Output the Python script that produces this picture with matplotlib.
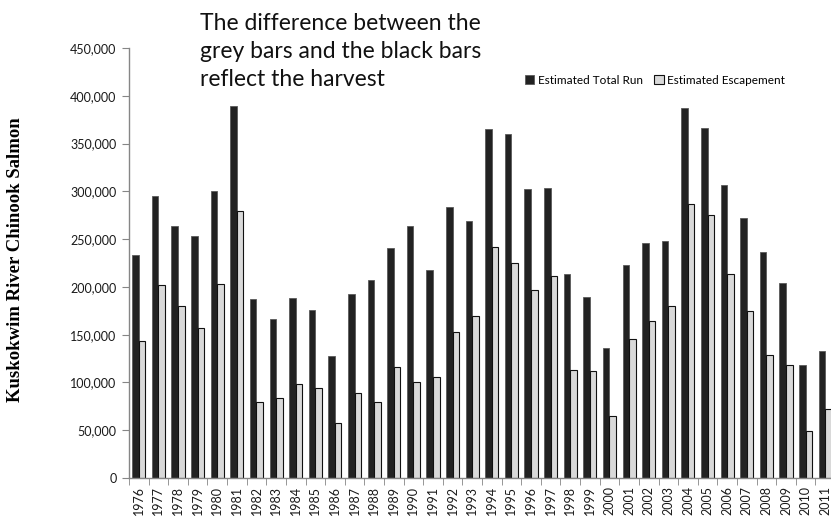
import matplotlib
matplotlib.use("Agg")
import matplotlib.pyplot as plt
import numpy as np
from matplotlib.ticker import FuncFormatter, FixedLocator

years = [str(y) for y in range(1976, 2012)]
total_run = [233000, 295000, 264000, 253000, 300000, 389000, 187000, 166000,
             188000, 176000, 128000, 193000, 207000, 241000, 264000, 218000,
             284000, 269000, 365000, 360000, 302000, 303000, 213000, 189000,
             136000, 223000, 246000, 248000, 387000, 366000, 307000, 272000,
             236000, 204000, 118000, 133000]
escapement = [143000, 202000, 180000, 157000, 203000, 279000, 80000, 84000,
              98000, 94000, 58000, 89000, 80000, 116000, 100000, 106000,
              153000, 170000, 242000, 225000, 197000, 211000, 113000, 112000,
              65000, 145000, 164000, 180000, 287000, 275000, 213000, 175000,
              129000, 118000, 49000, 72000]
series_names = ["Estimated Total Run", "Estimated Escapement"]
y_label = "Kuskokwim River Chinook Salmon"
note = "The difference between the\ngrey bars and the black bars\nreflect the harvest"

W, H = 831, 516
fig = plt.figure(figsize=(W / 100, H / 100), dpi=100)
ax = fig.add_axes([129 / W, 38 / H, 706 / W, 430 / H])

x = np.arange(len(years))
bw = 1 / 3
ax.bar(x - bw / 2, total_run, width=bw, color="#222222", edgecolor="#5a5a5a",
       linewidth=0.6, label=series_names[0], zorder=2)
ax.bar(x + bw / 2, escapement, width=bw, color="#d9d9d9", edgecolor="#111111",
       linewidth=0.8, label=series_names[1], zorder=2)

ax.set_xlim(-0.5, len(years) - 0.5)
ax.set_ylim(0, 450000)
ax.set_yticks(np.arange(0, 450001, 50000))
ax.yaxis.set_major_formatter(FuncFormatter(lambda v, p: f"{int(v):,}"))

ax.set_xticks(x)
ax.set_xticklabels(years, rotation=90)
ax.xaxis.set_minor_locator(FixedLocator(np.arange(-0.5, len(years), 1.0)))
ax.tick_params(axis="x", which="major", length=0, pad=6)
ax.tick_params(axis="x", which="minor", length=5, color="#868686", direction="out")
ax.tick_params(axis="y", length=5, color="#868686", direction="out", pad=4)
for lab in ax.get_xticklabels() + ax.get_yticklabels():
    lab.set_fontfamily("Lato")
    lab.set_fontsize(9)
    lab.set_color("#1a1a1a")

for s in ("top", "right"):
    ax.spines[s].set_visible(False)
for s in ("left", "bottom"):
    ax.spines[s].set_color("#868686")
    ax.spines[s].set_linewidth(1.0)

fig.text(16 / W, 1 - 260 / H, y_label, rotation=90, ha="center", va="center",
         fontfamily="Liberation Serif", fontweight="bold", fontsize=13.5)

fig.text(200 / W, 1 - 13 / H, note, ha="left", va="top", fontfamily="Lato",
         fontsize=16.5, linespacing=1.4, color="#111111")

leg = fig.legend(loc="center", bbox_to_anchor=(655 / W, 1 - 80 / H), ncol=2,
                 frameon=False, handlelength=0.8, handleheight=0.8,
                 handletextpad=0.3, columnspacing=1.0,
                 prop={"family": "Lato", "size": 8.5})

fig.savefig("out.png", dpi=100)
